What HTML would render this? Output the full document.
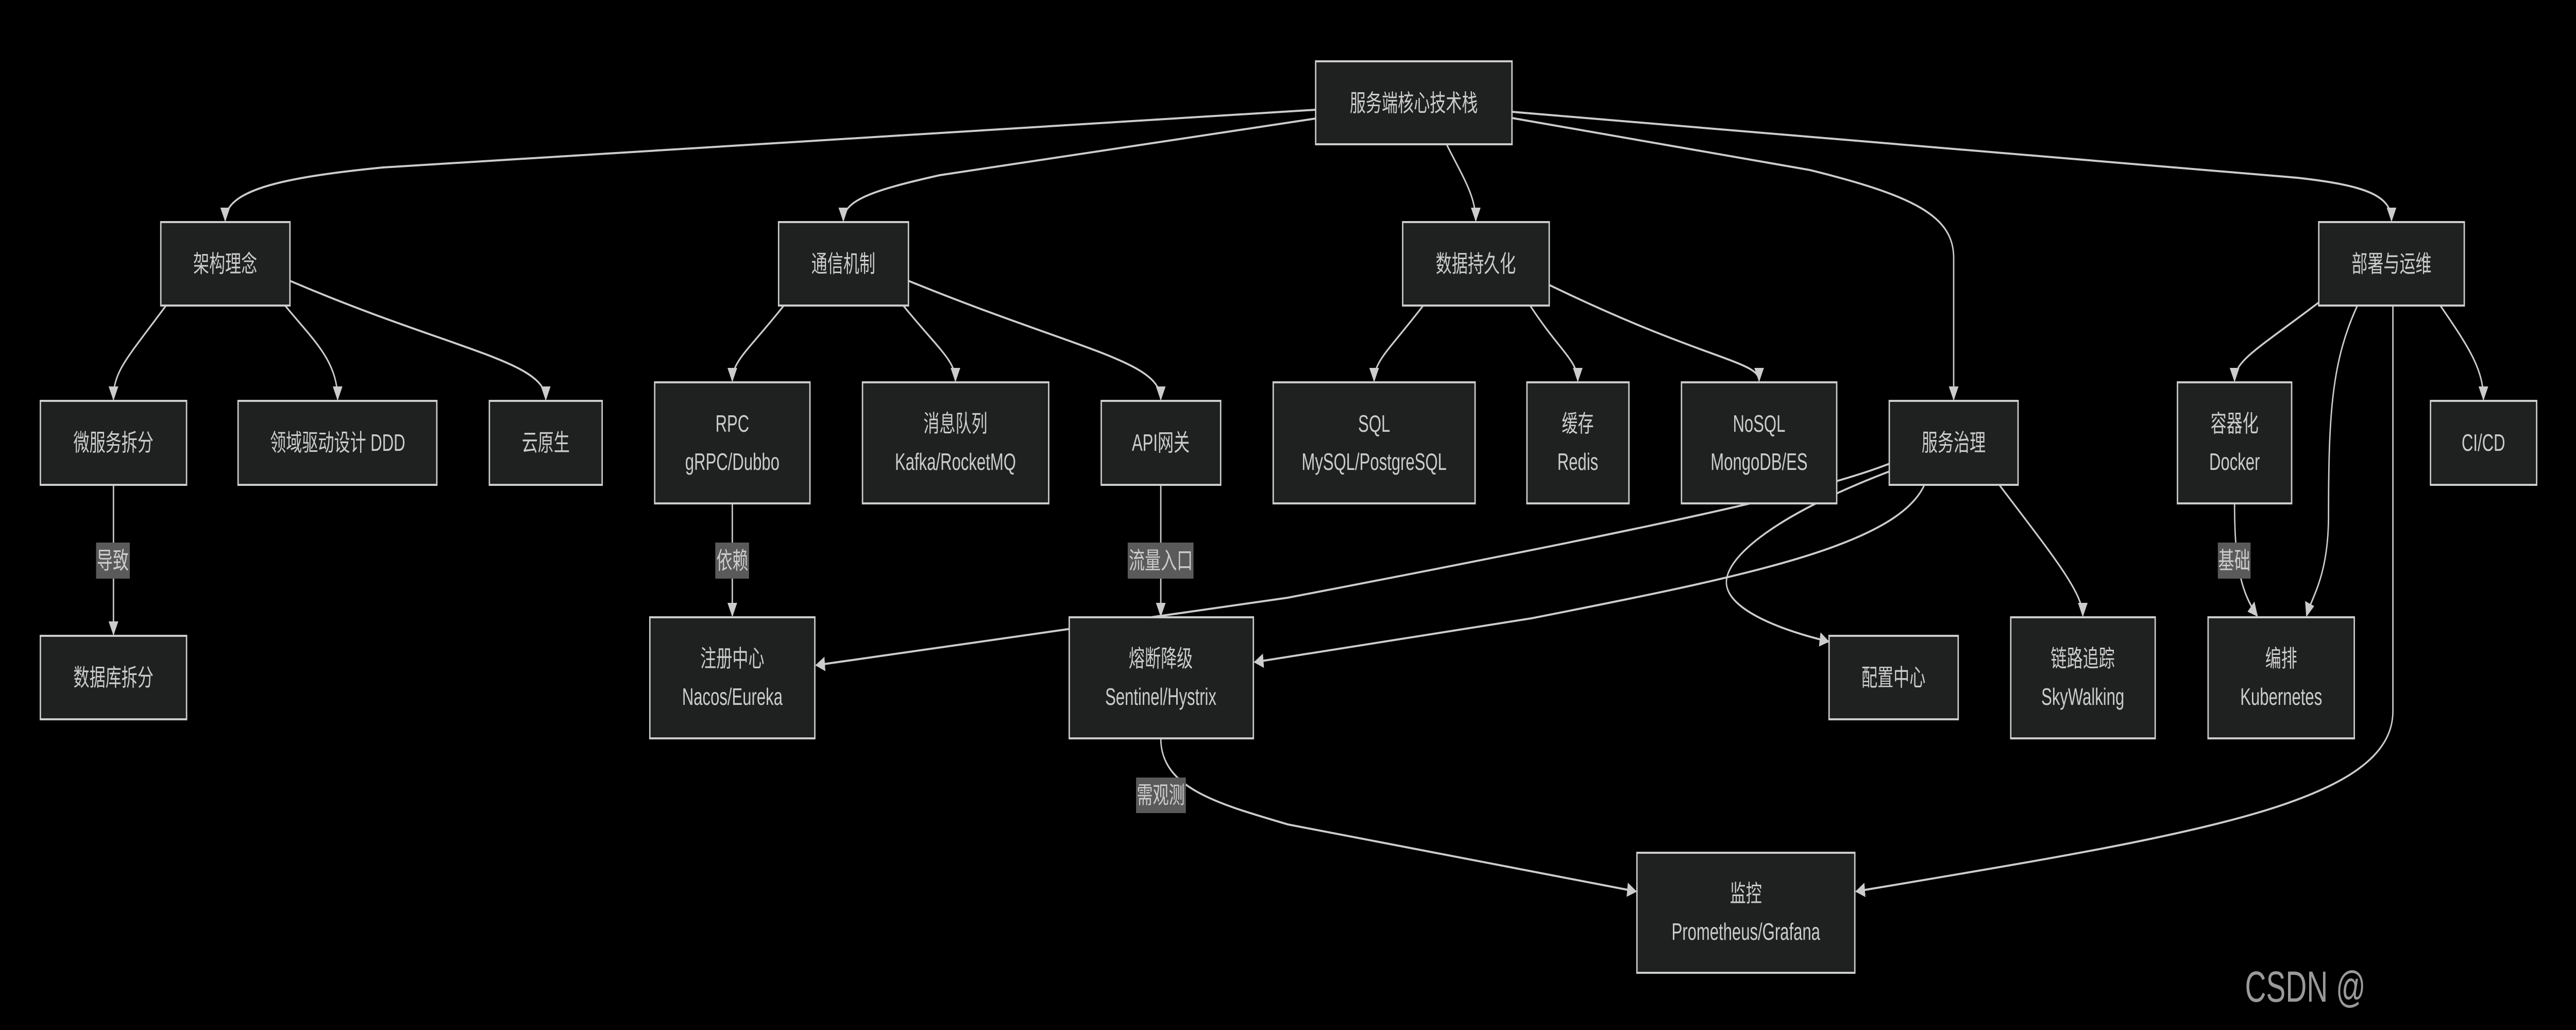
<!DOCTYPE html>
<html><head><meta charset="utf-8"><style>
html,body{margin:0;padding:0;background:#000;overflow:hidden;width:100%;height:100%;}
svg{display:block;width:100vw;height:100vh;}
text{font-family:"Liberation Sans","Noto Sans CJK SC",sans-serif;fill:#ccc;font-size:46px;}
</style></head><body>
<svg viewBox="0 0 7401 1999" preserveAspectRatio="none" xmlns="http://www.w3.org/2000/svg">
<defs>
<marker id="a" viewBox="0 0 10 10" refX="9" refY="5" markerWidth="7" markerHeight="7" markerUnits="strokeWidth" orient="auto"><path d="M0,0L10,5L0,10z" fill="#ccc"/></marker>
</defs>
<rect width="7401" height="1999" fill="#000"/>
<g fill="none" stroke="#ccc" stroke-width="4" marker-end="url(#a)">
<path d="M3780,213 L1100,325 C800,345 647,370 647,428"/>
<path d="M3780,230 L2700,340 C2500,370 2423,390 2423,428"/>
<path d="M4156,280 C4200,340 4240,380 4240,428"/>
<path d="M4344,229 L5200,330 C5500,380 5613,420 5613,500 L5613,775"/>
<path d="M4344,217 L6600,345 C6800,360 6871,380 6871,428"/>
<path d="M477,593 C360,700 326,720 326,775"/>
<path d="M819,593 C900,660 970,700 970,775"/>
<path d="M833,545 C1300,680 1568,700 1568,775"/>
<path d="M326,941 L326,1231"/>
<path d="M2252,593 C2150,680 2104,700 2104,739"/>
<path d="M2595,593 C2700,680 2745,700 2745,739"/>
<path d="M2610,545 C3100,680 3335,700 3335,775"/>
<path d="M2104,977 L2104,1195"/>
<path d="M3335,941 L3335,1195"/>
<path d="M3335,1433 C3335,1530 3500,1560 3700,1600 L4700,1730"/>
<path d="M4089,593 C3990,680 3948,700 3948,739"/>
<path d="M4396,593 C4480,680 4533,700 4533,739"/>
<path d="M4451,553 C4900,700 5054,700 5054,739"/>
<path d="M5428,900 C5200,960 4700,1030 3700,1160 L2345,1291"/>
<path d="M5428,915 C5100,1000 4960,1080 4960,1130 C4960,1180 5100,1220 5253,1245"/>
<path d="M5529,941 C5450,1060 5000,1120 4400,1200 L3605,1285"/>
<path d="M5744,941 C5900,1080 5984,1150 5984,1195"/>
<path d="M6662,587 C6480,680 6420,700 6420,739"/>
<path d="M6773,593 C6700,700 6690,800 6690,1000 C6690,1120 6640,1160 6627,1195"/>
<path d="M7011,593 C7100,680 7135,720 7135,775"/>
<path d="M6875,593 L6875,1380 C6875,1560 6300,1620 5333,1730"/>
<path d="M6420,977 C6420,1100 6440,1150 6485,1195"/>
</g>
<g fill="#1f2020" stroke="#ccc" stroke-width="4">
<rect x="3780" y="119" width="564" height="161"/>
<rect x="462" y="431" width="371" height="162"/>
<rect x="2237" y="431" width="373" height="162"/>
<rect x="4030" y="431" width="421" height="162"/>
<rect x="6662" y="431" width="418" height="162"/>
<rect x="116" y="778" width="420" height="163"/>
<rect x="684" y="778" width="571" height="163"/>
<rect x="1406" y="778" width="324" height="163"/>
<rect x="1881" y="742" width="446" height="235"/>
<rect x="2478" y="742" width="535" height="235"/>
<rect x="3164" y="778" width="343" height="163"/>
<rect x="3658" y="742" width="580" height="235"/>
<rect x="4387" y="742" width="293" height="235"/>
<rect x="4831" y="742" width="446" height="235"/>
<rect x="5428" y="778" width="370" height="163"/>
<rect x="6256" y="742" width="328" height="235"/>
<rect x="6983" y="778" width="305" height="163"/>
<rect x="116" y="1234" width="420" height="162"/>
<rect x="1867" y="1198" width="474" height="235"/>
<rect x="3072" y="1198" width="529" height="235"/>
<rect x="5255" y="1234" width="371" height="162"/>
<rect x="5777" y="1198" width="415" height="235"/>
<rect x="6344" y="1198" width="420" height="235"/>
<rect x="4703" y="1655" width="626" height="233"/>
</g>
<g fill="#5a5a5a">
<rect x="276" y="1053" width="97" height="70"/>
<rect x="2055" y="1053" width="97" height="70"/>
<rect x="3240" y="1053" width="189" height="70"/>
<rect x="3264" y="1509" width="143" height="69"/>
<rect x="6372" y="1053" width="94" height="70"/>
</g>
<g text-anchor="middle">
<text x="4062" y="216">服务端核心技术栈</text>
<text x="647" y="528">架构理念</text>
<text x="2423" y="528">通信机制</text>
<text x="4240" y="528">数据持久化</text>
<text x="6871" y="528">部署与运维</text>
<text x="326" y="875">微服务拆分</text>
<text x="970" y="875">领域驱动设计 DDD</text>
<text x="1568" y="875">云原生</text>
<text x="2104" y="838">RPC</text><text x="2104" y="912">gRPC/Dubbo</text>
<text x="2745" y="838">消息队列</text><text x="2745" y="912">Kafka/RocketMQ</text>
<text x="3335" y="875">API网关</text>
<text x="3948" y="838">SQL</text><text x="3948" y="912">MySQL/PostgreSQL</text>
<text x="4533" y="838">缓存</text><text x="4533" y="912">Redis</text>
<text x="5054" y="838">NoSQL</text><text x="5054" y="912">MongoDB/ES</text>
<text x="5613" y="875">服务治理</text>
<text x="6420" y="838">容器化</text><text x="6420" y="912">Docker</text>
<text x="7135" y="875">CI/CD</text>
<text x="326" y="1331">数据库拆分</text>
<text x="2104" y="1294">注册中心</text><text x="2104" y="1368">Nacos/Eureka</text>
<text x="3335" y="1294">熔断降级</text><text x="3335" y="1368">Sentinel/Hystrix</text>
<text x="5440" y="1331">配置中心</text>
<text x="5984" y="1294">链路追踪</text><text x="5984" y="1368">SkyWalking</text>
<text x="6554" y="1294">编排</text><text x="6554" y="1368">Kubernetes</text>
<text x="5016" y="1750">监控</text><text x="5016" y="1824">Prometheus/Grafana</text>
<text x="324" y="1104">导致</text>
<text x="2104" y="1104">依赖</text>
<text x="3335" y="1104">流量入口</text>
<text x="3335" y="1559">需观测</text>
<text x="6419" y="1104">基础</text>
</g>
<text x="6450" y="1944" style="font-size:84px;fill:#9a9a9a">CSDN @</text>
</svg>
</body></html>
